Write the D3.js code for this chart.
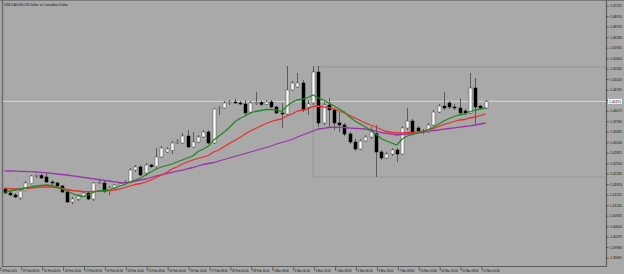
<!DOCTYPE html>
<html>
<head>
<meta charset="utf-8">
<script src="https://cdn.jsdelivr.net/npm/d3@7"></script>
<style>
  html, body { margin: 0; padding: 0; background: #a9a9a9; }
  svg { display: block; }
  text { font-family: "Liberation Sans", Arial, sans-serif; }
</style>
</head>
<body>
<svg id="chart" width="624" height="274"></svg>
<script>
// USDCAD H4 candles
var open = [
  1.4174,1.4162,1.4156,1.4147,1.4169,1.4190,1.4213,1.4214,1.4210,1.4195,
  1.4192,1.4183,1.4165,1.4135,1.4144,1.4153,1.4162,1.4144,1.4192,1.4192,
  1.4166,1.4177,1.4186,1.4190,1.4194,1.4231,1.4240,1.4222,1.4246,1.4241,
  1.4270,1.4285,1.4290,1.4312,1.4312,1.4333,1.4300,1.4315,1.4330,1.4345,
  1.4312,1.4414,1.4417,1.4432,1.4435,1.4432,1.4429,1.4405,1.4432,1.4434,
  1.4428,1.4435,1.4420,1.4402,1.4399,1.4471,1.4480,1.4492,1.4420,1.4432,
  1.4525,1.4372,1.4426,1.4411,1.4372,1.4366,1.4339,1.4315,1.4294,1.4318,
  1.4330,1.4340,1.4285,1.4267,1.4279,1.4291,1.4279,1.4357,1.4378,1.4357,
  1.4348,1.4345,1.4366,1.4405,1.4423,1.4432,1.4420,1.4417,1.4408,1.4402,
  1.4477,1.4423,1.4417];
var high = [
  1.4180,1.4168,1.4162,1.4174,1.4198,1.4216,1.4219,1.4220,1.4222,1.4201,
  1.4195,1.4186,1.4168,1.4150,1.4159,1.4168,1.4168,1.4195,1.4201,1.4198,
  1.4183,1.4189,1.4195,1.4201,1.4237,1.4246,1.4246,1.4252,1.4249,1.4297,
  1.4303,1.4300,1.4318,1.4324,1.4342,1.4351,1.4345,1.4336,1.4351,1.4351,
  1.4417,1.4423,1.4438,1.4441,1.4444,1.4438,1.4441,1.4438,1.4465,1.4438,
  1.4441,1.4441,1.4423,1.4432,1.4543,1.4498,1.4522,1.4501,1.4441,1.4543,
  1.4543,1.4435,1.4447,1.4417,1.4405,1.4372,1.4345,1.4324,1.4324,1.4336,
  1.4360,1.4366,1.4291,1.4285,1.4297,1.4297,1.4363,1.4417,1.4384,1.4363,
  1.4354,1.4372,1.4411,1.4429,1.4465,1.4438,1.4429,1.4447,1.4414,1.4522,
  1.4507,1.4426,1.4441];
var low = [
  1.4159,1.4153,1.4147,1.4141,1.4166,1.4187,1.4207,1.4204,1.4192,1.4186,
  1.4180,1.4162,1.4132,1.4129,1.4138,1.4150,1.4141,1.4138,1.4189,1.4162,
  1.4156,1.4174,1.4183,1.4186,1.4191,1.4225,1.4213,1.4213,1.4237,1.4234,
  1.4267,1.4282,1.4279,1.4309,1.4309,1.4297,1.4297,1.4312,1.4327,1.4309,
  1.4309,1.4396,1.4414,1.4426,1.4429,1.4426,1.4396,1.4399,1.4426,1.4423,
  1.4426,1.4417,1.4399,1.4357,1.4396,1.4468,1.4477,1.4405,1.4396,1.4426,
  1.4360,1.4366,1.4357,1.4351,1.4345,1.4333,1.4309,1.4288,1.4291,1.4315,
  1.4324,1.4210,1.4261,1.4264,1.4273,1.4255,1.4276,1.4351,1.4342,1.4342,
  1.4339,1.4342,1.4363,1.4402,1.4411,1.4414,1.4411,1.4399,1.4396,1.4399,
  1.4369,1.4414,1.4414];
var close = [
  1.4162,1.4156,1.4150,1.4168,1.4192,1.4213,1.4215,1.4207,1.4195,1.4192,
  1.4183,1.4165,1.4135,1.4144,1.4153,1.4162,1.4144,1.4192,1.4194,1.4166,
  1.4177,1.4186,1.4190,1.4194,1.4231,1.4240,1.4216,1.4246,1.4241,1.4270,
  1.4297,1.4294,1.4312,1.4315,1.4333,1.4300,1.4315,1.4330,1.4345,1.4312,
  1.4414,1.4417,1.4432,1.4435,1.4432,1.4429,1.4402,1.4432,1.4434,1.4428,
  1.4435,1.4420,1.4402,1.4399,1.4471,1.4492,1.4492,1.4411,1.4429,1.4525,
  1.4372,1.4426,1.4411,1.4372,1.4366,1.4339,1.4315,1.4294,1.4318,1.4330,
  1.4345,1.4285,1.4267,1.4279,1.4291,1.4279,1.4357,1.4378,1.4345,1.4348,
  1.4345,1.4366,1.4405,1.4423,1.4417,1.4420,1.4418,1.4402,1.4402,1.4477,
  1.4420,1.4417,1.4437];

// moving averages (green fast, red middle, purple slow)
var maGreen = [
  1.41635,1.4168,1.4171,1.4174,1.4177,1.4180,1.4183,1.41845,1.4186,1.41845,
  1.4180,1.4174,1.4168,1.41605,1.41545,1.41515,1.4156,1.41635,1.4168,1.41695,
  1.4171,1.4177,1.4183,1.41875,1.4195,1.4201,1.4207,1.4216,1.4225,1.4234,
  1.4240,1.42445,1.4249,1.4255,1.4261,1.4267,1.4273,1.42865,1.4294,1.4303,
  1.4321,1.4333,1.4345,1.43585,1.4375,1.43855,1.4393,1.4402,1.44065,1.44095,
  1.44125,1.44125,1.4411,1.44065,1.4423,1.4435,1.4441,1.4444,1.44485,1.4456,
  1.4447,1.4441,1.4432,1.4423,1.4414,1.4405,1.4390,1.4378,1.4369,1.4360,
  1.4351,1.4339,1.43255,1.4318,1.4312,1.4306,1.4324,1.4333,1.43375,1.4342,
  1.43465,1.43525,1.43585,1.4369,1.4378,1.43855,1.43915,1.4396,1.4399,1.44065,
  1.4411,1.4414,1.4417];
var maRed = [
  1.41755,1.4175,1.4174,1.4174,1.41755,1.4177,1.41785,1.4180,1.41806,1.4180,
  1.41785,1.41755,1.41725,1.41695,1.4168,1.41665,1.41659,1.41665,1.41674,1.4168,
  1.41695,1.4171,1.4174,1.41785,1.4183,1.41875,1.41905,1.4195,1.4201,1.42085,
  1.4216,1.42235,1.4234,1.4240,1.4249,1.4255,1.4261,1.42655,1.4270,1.42745,
  1.4285,1.4291,1.43015,1.43105,1.43195,1.43285,1.4339,1.4348,1.43555,1.4363,
  1.43705,1.43765,1.4381,1.4384,1.4393,1.4399,1.4408,1.4411,1.4414,1.44215,
  1.4423,1.4420,1.44185,1.4414,1.4408,1.4402,1.43945,1.4387,1.43795,1.4372,
  1.4366,1.4360,1.43525,1.43465,1.43435,1.4342,1.4342,1.43435,1.43435,1.4345,
  1.43465,1.4351,1.43555,1.43615,1.43675,1.4372,1.43765,1.4381,1.43825,1.4387,
  1.4390,1.43945,1.4399];
var maPurple = [
  1.42286,1.4228,1.42274,1.42268,1.42265,1.42259,1.4225,1.42241,1.42226,1.42211,
  1.4219,1.42175,1.4216,1.42136,1.42115,1.42091,1.4207,1.42046,1.42025,1.42001,
  1.4198,1.41956,1.41935,1.41926,1.4195,1.4198,1.4201,1.4204,1.42085,1.4213,
  1.42166,1.42205,1.42241,1.42274,1.42304,1.42346,1.42385,1.4243,1.42475,1.42505,
  1.42535,1.4258,1.42625,1.4267,1.42715,1.4276,1.42805,1.4285,1.42895,1.4294,
  1.42985,1.4303,1.4309,1.43135,1.4318,1.43225,1.4330,1.4336,1.4342,1.4348,
  1.4354,1.43561,1.43585,1.43594,1.43591,1.43585,1.4357,1.43561,1.43552,1.4354,
  1.4351,1.4348,1.43435,1.43411,1.43384,1.4336,1.43375,1.4339,1.43405,1.4342,
  1.4345,1.43474,1.43495,1.4351,1.43534,1.43555,1.43576,1.43594,1.43615,1.43636,
  1.4366,1.4369,1.4372];

// price axis labels
var priceTicks = [1.47225,1.46910,1.46595,1.46280,1.45965,1.45650,1.45335,1.45020,
  1.44705,1.44390,1.44075,1.43760,1.43445,1.43130,1.42815,1.42500,1.42185,1.41870,
  1.41555,1.41240,1.40925,1.40610,1.40295,1.39980,1.39665];

// time axis labels, every 4th bar
var timeBars = [0,4,8,12,16,20,24,28,32,36,40,44,48,52,56,60,64,68,72,76,80,84,88,92];
var timeLabels = ["18 Feb 2025","19 Feb 08:00","20 Feb 00:00","20 Feb 16:00","21 Feb 08:00",
  "24 Feb 00:00","24 Feb 16:00","25 Feb 08:00","26 Feb 00:00","26 Feb 16:00","27 Feb 08:00",
  "28 Feb 00:00","28 Feb 16:00","3 Mar 08:00","4 Mar 00:00","4 Mar 16:00","5 Mar 08:00",
  "6 Mar 00:00","6 Mar 16:00","7 Mar 08:00","10 Mar 00:00","10 Mar 16:00","11 Mar 08:00",
  "12 Mar 00:00"];

// drawn box (rectangle object on the chart)
var boxFromBar = 59, boxTop = 1.4540, boxBottom = 1.4210;

var title = "USDCAD,H4  US Dollar vs Canadian Dollar";

var svg = d3.select("#chart");
var W = 624, H = 274;
var plotRight = 606, plotBottom = 266;

var x = d3.scaleLinear().domain([0, open.length - 1]).range([4.5, 485.7]);
var y = d3.scaleLinear().domain([1.4741, 1.3940]).range([0, 267]);

var bars = d3.range(open.length).map(function(i) {
  return {i: i, o: open[i], h: high[i], l: low[i], c: close[i]};
});

// background + frame
svg.append("rect").attr("width", W).attr("height", H).attr("fill", "#a9a9a9");
svg.append("line").attr("x1", 0).attr("x2", W).attr("y1", 0.5).attr("y2", 0.5)
  .attr("stroke", "#7a7a7a");
svg.append("line").attr("x1", 2.5).attr("x2", 2.5).attr("y1", 0).attr("y2", plotBottom)
  .attr("stroke", "#6e6e6e").attr("stroke-width", 1.5);
svg.append("line").attr("x1", 2).attr("x2", plotRight).attr("y1", plotBottom + 0.5).attr("y2", plotBottom + 0.5)
  .attr("stroke", "#5e5e5e").attr("stroke-width", 1.2);
svg.append("line").attr("x1", plotRight + 0.5).attr("x2", plotRight + 0.5).attr("y1", 0).attr("y2", plotBottom + 1)
  .attr("stroke", "#5e5e5e").attr("stroke-width", 1.2);

var plot = svg.append("g");

// current price line
var last = close[close.length - 1];
plot.append("line")
  .attr("x1", 3).attr("x2", plotRight)
  .attr("y1", y(last)).attr("y2", y(last))
  .attr("stroke", "#d6d6d6").attr("stroke-width", 1);

// rectangle object
var bx = x(boxFromBar);
plot.append("path")
  .attr("d", "M" + plotRight + "," + y(boxTop) + "H" + bx + "V" + y(boxBottom) + "H" + plotRight)
  .attr("fill", "none")
  .attr("stroke", "#7d7d7d")
  .attr("stroke-width", 0.8)
  .attr("stroke-dasharray", "1,1");

// wicks
plot.selectAll("line.wick").data(bars).enter()
  .append("line").attr("class", "wick")
  .attr("x1", function(d) { return Math.round(x(d.i)) + 0.5; })
  .attr("x2", function(d) { return Math.round(x(d.i)) + 0.5; })
  .attr("y1", function(d) { return y(d.h); })
  .attr("y2", function(d) { return y(d.l); })
  .attr("stroke", "#5a5a5a")
  .attr("stroke-width", 1);

// bodies
plot.selectAll("rect.body").data(bars).enter()
  .append("rect").attr("class", "body")
  .attr("x", function(d) { return Math.round(x(d.i)) - 1; })
  .attr("width", 3)
  .attr("y", function(d) { return y(Math.max(d.o, d.c)); })
  .attr("height", function(d) { return Math.max(1, Math.abs(y(d.o) - y(d.c))); })
  .attr("fill", function(d) { return d.c >= d.o ? "#ffffff" : "#000000"; })
  .attr("stroke", function(d) { return d.c >= d.o ? "#4a4a4a" : "#000000"; })
  .attr("stroke-width", 0.5);

// moving averages
var line = function(vals) {
  return d3.line()
    .x(function(d, i) { return x(i); })
    .y(function(d) { return y(d); })(vals);
};
var mas = [
  {vals: maPurple, color: "#9a35aa"},
  {vals: maRed, color: "#e8302c"},
  {vals: maGreen, color: "#1f8a1f"}
];
plot.selectAll("path.ma").data(mas).enter()
  .append("path").attr("class", "ma")
  .attr("d", function(d) { return line(d.vals); })
  .attr("fill", "none")
  .attr("stroke", function(d) { return d.color; })
  .attr("stroke-width", 1.3);

// price axis
var pa = svg.append("g");
pa.selectAll("line").data(priceTicks).enter().append("line")
  .attr("x1", plotRight).attr("x2", plotRight + 3)
  .attr("y1", function(d) { return y(d); }).attr("y2", function(d) { return y(d); })
  .attr("stroke", "#333").attr("stroke-width", 0.6);
pa.selectAll("text").data(priceTicks).enter().append("text")
  .attr("x", plotRight + 4)
  .attr("y", function(d) { return y(d) + 1.3; })
  .attr("font-size", 3.8)
  .attr("textLength", 12)
  .attr("lengthAdjust", "spacingAndGlyphs")
  .attr("fill", "#111")
  .text(function(d) { return d.toFixed(5); });

// current price tag
pa.append("rect")
  .attr("x", plotRight + 2).attr("y", y(last) - 2.4)
  .attr("width", 14).attr("height", 4.8)
  .attr("fill", "#ffffff");
pa.append("text")
  .attr("x", plotRight + 3).attr("y", y(last) + 1.3)
  .attr("font-size", 3.8)
  .attr("textLength", 12)
  .attr("lengthAdjust", "spacingAndGlyphs")
  .attr("fill", "#000")
  .text(last.toFixed(5));

// time axis
var ta = svg.append("g");
ta.selectAll("line").data(timeBars).enter().append("line")
  .attr("x1", function(d) { return x(d) - 3.7; })
  .attr("x2", function(d) { return x(d) - 3.7; })
  .attr("y1", plotBottom + 1).attr("y2", plotBottom + 5)
  .attr("stroke", "#333").attr("stroke-width", 0.6);
ta.selectAll("text").data(timeBars).enter().append("text")
  .attr("x", function(d) { return x(d) - 2.6; })
  .attr("y", plotBottom + 5.5)
  .attr("font-size", 3.8)
  .attr("textLength", function(d, i) { return timeLabels[i].length > 11 ? 16.5 : 15; })
  .attr("lengthAdjust", "spacingAndGlyphs")
  .attr("fill", "#111")
  .text(function(d, i) { return timeLabels[i]; });

// title
svg.append("text")
  .attr("x", 4).attr("y", 5.5)
  .attr("font-size", 4)
  .attr("textLength", 64)
  .attr("lengthAdjust", "spacingAndGlyphs")
  .attr("fill", "#111")
  .text(title);
</script>
</body>
</html>
